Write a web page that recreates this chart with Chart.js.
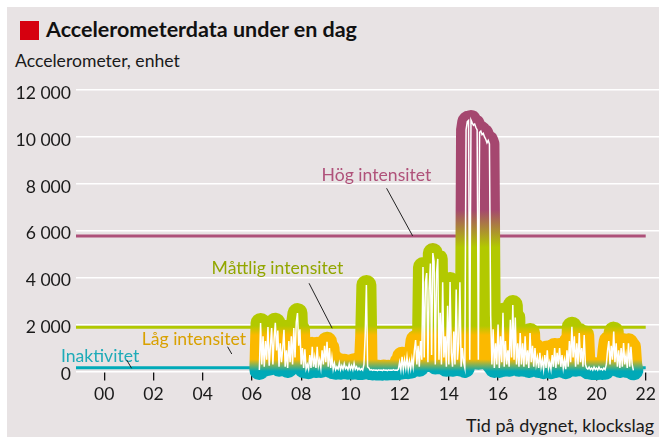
<!DOCTYPE html>
<html><head><meta charset="utf-8">
<script src="https://cdn.jsdelivr.net/npm/chart.js@4/dist/chart.umd.min.js"></script>
<style>
html,body{margin:0;padding:0;background:#fff;}
#wrap{position:relative;width:659px;height:437px;overflow:hidden;background:#fff;font-family:Lato,sans-serif;color:#1a1a1a;}
#panel{position:absolute;left:7px;top:7px;right:0;bottom:0;background:#e8e3e4;}
#sq{position:absolute;left:20px;top:21px;width:19px;height:19px;background:#d6000f;}
#title{position:absolute;left:46px;top:18.5px;font-weight:bold;font-size:21.5px;line-height:21.5px;white-space:nowrap;color:#111;}
#sub{position:absolute;left:15px;top:51.5px;font-size:17.6px;line-height:17.6px;white-space:nowrap;}
#xt{position:absolute;right:5px;top:415.5px;font-size:18px;line-height:18px;white-space:nowrap;}
canvas{position:absolute;left:0;top:0;}
</style></head>
<body>
<div id="wrap">
  <div id="panel"></div>
  <div id="sq"></div>
  <div id="title">Accelerometerdata under en dag</div>
  <div id="sub">Accelerometer, enhet</div>
  <div id="xt">Tid på dygnet, klockslag</div>
  <canvas id="c" width="659" height="437"></canvas>
</div>
<script>
// ---- data ----
const startHour = 6.30;          // first sample, hours
const stepHours = 0.05;          // sampling interval (3 min)
const h06 = [60,2070,300,1500,200,1300,500,1900,250,1100,1850,300,1400,2080];
const h07 = [900,1750,200,1200,400,1000,1780,200,900,150,1300,400,1500,300,1850,600,2100,2490,1100,1800];
const h08 = [300,1000,150,950,120,300,100,700,150,1050,200,600,150,1050,250,500,150,900,300,1100];
const h09 = [400,1270,200,1000,150,600,100,350,80,200,100,360,80,250,100,330,120,200,80,300];
const h10 = [100,250,80,350,100,200,70,150,60,120,60,300,1500,3690,200,150,60,80,50,70];
const h11 = [50,60,40,70,50,60,40,80,50,60,40,70,50,60,50,80,50,60,50,100];
const h12 = [400,80,630,100,500,150,600,100,450,120,550,200,900,1340,300,1100,200,1300,500,4450];
const h13 = [600,3800,4200,400,3500,4600,700,5050,4700,300,4200,4800,500,2500,300,3800,600,1500,200,2800];
const h14 = [300,3810,800,200,1700,300,3500,500,1200,3800,200,1000,400,150,10300,10650,10700,500,10720,10600];
const h15 = [10500,10550,10400,10300,500,10200,10250,10100,10150,10000,9900,9750,9850,9700,2400,300,1800,150,1200,300];
const h16 = [2000,150,1500,400,2500,200,1300,300,900,200,2200,600,2830,500,2300,300,1200,200,1640,300];
const h17 = [1200,200,1500,300,900,150,1640,400,1100,200,1000,300,600,150,800,200,500,100,700,150];
const h18 = [900,150,400,100,700,200,1000,150,800,300,1000,200,700,150,500,100,900,200,1300,400];
const h19 = [1910,600,1500,200,1200,300,1640,400,1000,200,1550,300,150,100,190,80,150,60,190,80];
const h20 = [150,60,190,80,120,60,150,80,300,900,1300,300,1100,500,1700,400,1200,200,900,150];
const h21 = [1000,200,1210,300,700,150,1200,200,1050,300,50];
const activity = [].concat(h06,h07,h08,h09,h10,h11,h12,h13,h14,h15,h16,h17,h18,h19,h20,h21);

const levelNames  = ['Hög intensitet','Måttlig intensitet','Inaktivitet'];
const levelValues = [5780, 1885, 162];
const hourTicks = [0,2,4,6,8,10,12,14,16,18,20,22];
const yGrid = [0,1000,2000,3000,4000,5000,6000,7000,8000,9000,10000,11000,12000];
const yLabelled = [0,2000,4000,6000,8000,10000,12000];

// ---- build ----
const points = activity.map((v,i)=>({x:+(startHour+i*stepHours).toFixed(2), y:v}));
const X_MIN = -1.15, X_MAX = 22.54, DAY_END = 22;
const FONT = 'Lato', FS = 17.6;

const gradientStops = [[-600,'#00a9b7'],[20,'#00a9b7'],[520,'#fbb900'],[1550,'#fbb900'],[1950,'#b2c900'],[5300,'#b2c900'],[6900,'#a5476f'],[12000,'#a5476f']];
let gCache=null, gKey='';
function bandGradient(context){
  const chart=context.chart;
  if(!chart.chartArea) return '#b2c900';
  const y=chart.scales.y;
  const lo=gradientStops[0][0], hi=gradientStops[gradientStops.length-1][0];
  const p0=y.getPixelForValue(lo), p1=y.getPixelForValue(hi);
  const key=p0+'_'+p1;
  if(gCache && key===gKey) return gCache;
  const g=chart.ctx.createLinearGradient(0,p0,0,p1);
  gradientStops.forEach(([v,c])=>g.addColorStop((v-lo)/(hi-lo),c));
  gCache=g; gKey=key; return g;
}

const levelColors = ['#ad5079','#b1c800','#00aab8'];
const levelSets = levelValues.map((v,i)=>({
  label: levelNames[i],
  data:[{x:X_MIN,y:v},{x:DAY_END,y:v}],
  borderColor: levelColors[i], borderWidth: 3, pointRadius:0, order: 2, clip:false
}));

const notes = [
  {text:'Hög intensitet', color:'#b0527a', at:[8.83,8120], from:[11.47,7812], to:[12.53,5778]},
  {text:'Måttlig intensitet', color:'#92a600', at:[4.36,4140], from:[8.32,3761], to:[9.26,1842]},
  {text:'Låg intensitet', color:'#d9a100', at:[1.52,1120], from:[5.01,1057], to:[5.18,746]},
  {text:'Inaktivitet', color:'#1eabb8', at:[-1.76,420], from:[0.91,490], to:[1.11,136]}
];
const notePlugin = {
  id:'notes',
  afterDatasetsDraw(chart){
    const {ctx, scales:{x,y}} = chart;
    ctx.save();
    ctx.font = FS+'px '+FONT;
    ctx.textBaseline='alphabetic';
    notes.forEach(n=>{
      ctx.fillStyle=n.color;
      ctx.fillText(n.text, x.getPixelForValue(n.at[0]), y.getPixelForValue(n.at[1]));
      ctx.strokeStyle='#222'; ctx.lineWidth=1;
      ctx.beginPath();
      ctx.moveTo(x.getPixelForValue(n.from[0]), y.getPixelForValue(n.from[1]));
      ctx.lineTo(x.getPixelForValue(n.to[0]), y.getPixelForValue(n.to[1]));
      ctx.stroke();
    });
    ctx.restore();
  }
};

new Chart(document.getElementById('c'), {
  type:'line',
  data:{datasets:[
    {label:'Accelerometer', data:points, borderColor:'#ffffff', borderWidth:1.5, pointRadius:0, tension:0, clip:false, order:0},
    {label:'Intensitet', data:points, borderColor:bandGradient, borderWidth:20, borderJoinStyle:'round', borderCapStyle:'round', pointRadius:0, tension:0, clip:false, order:1},
    ...levelSets
  ]},
  options:{
    responsive:false, animation:false, devicePixelRatio:1,
    layout:{padding:{top:90,left:0,right:0,bottom:0}},
    plugins:{legend:{display:false}, tooltip:{enabled:false}},
    scales:{
      x:{type:'linear', min:X_MIN, max:X_MAX, z:1,
        border:{display:false},
        grid:{drawOnChartArea:false, drawTicks:true, tickLength:9, color:'#111', lineWidth:1.3},
        afterBuildTicks:s=>{s.ticks=hourTicks.map(v=>({value:v}));},
        afterFit:s=>{s.height=65.5;},
        ticks:{autoSkip:false, maxRotation:0, padding:3, color:'#1a1a1a', font:{family:FONT, size:FS},
          callback:v=>String(v).padStart(2,'0')}
      },
      y:{type:'linear', min:0, max:12000,
        border:{display:false},
        grid:{color:'#ffffff', lineWidth:1.5, drawTicks:false},
        afterBuildTicks:s=>{s.ticks=yGrid.map(v=>({value:v}));},
        afterFit:s=>{s.width=76;},
        ticks:{padding:5, labelOffset:3, color:'#1a1a1a', font:{family:FONT, size:FS},
          callback:v=> yLabelled.includes(v) ? (v===0?'0':(v/1000)+' 000') : ''}
      }
    }
  },
  plugins:[notePlugin]
});
</script>
</body></html>
